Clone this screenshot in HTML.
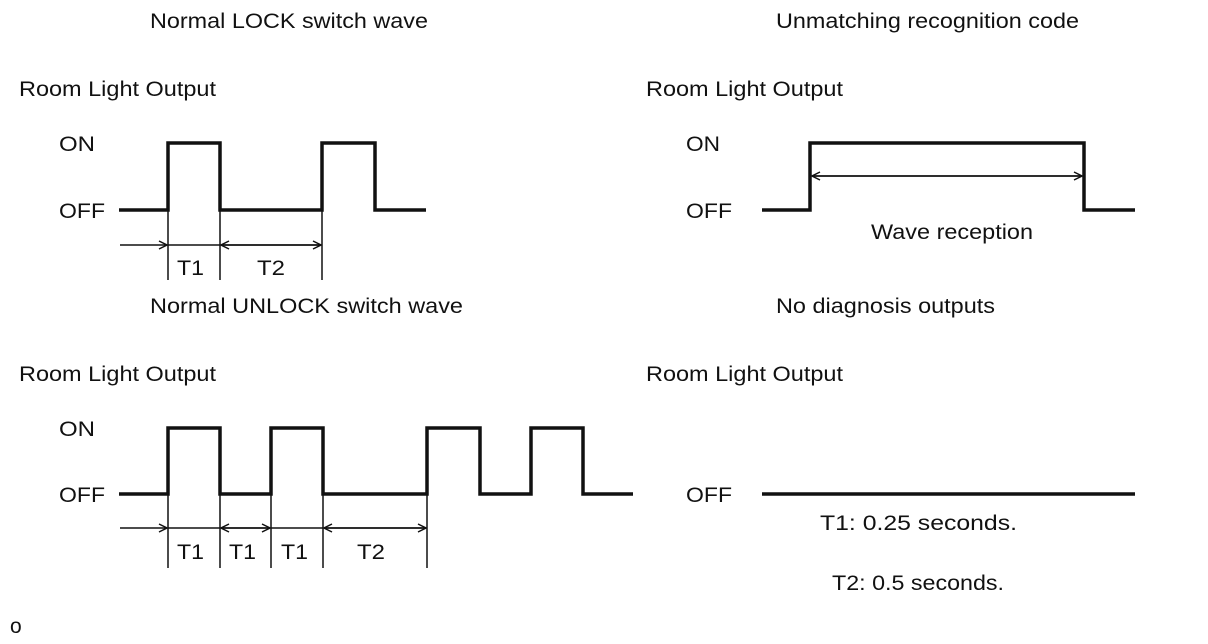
<!DOCTYPE html>
<html><head><meta charset="utf-8"><style>
html,body{margin:0;padding:0;background:#fff;}
svg{display:block;}
text{font-family:"Liberation Sans",Arial,sans-serif;font-size:21px;fill:#111;}
</style></head><body>
<svg width="1208" height="644" viewBox="0 0 1208 644" xmlns="http://www.w3.org/2000/svg">
<defs>
<marker id="ah" markerWidth="10" markerHeight="10" refX="9" refY="5" orient="auto" markerUnits="userSpaceOnUse">
<path d="M1,1 L9,5 L1,9" fill="none" stroke="#111" stroke-width="1.5"/>
</marker>
</defs>
<!-- texts -->
<text x="150" y="28" textLength="278" lengthAdjust="spacingAndGlyphs">Normal LOCK switch wave</text>
<text x="776" y="28" textLength="303" lengthAdjust="spacingAndGlyphs">Unmatching recognition code</text>
<text x="19" y="96" textLength="197" lengthAdjust="spacingAndGlyphs">Room Light Output</text>
<text x="646" y="96" textLength="197" lengthAdjust="spacingAndGlyphs">Room Light Output</text>
<text x="59" y="151" textLength="36" lengthAdjust="spacingAndGlyphs">ON</text>
<text x="59" y="218" textLength="46" lengthAdjust="spacingAndGlyphs">OFF</text>
<text x="686" y="151" textLength="34" lengthAdjust="spacingAndGlyphs">ON</text>
<text x="686" y="218" textLength="46" lengthAdjust="spacingAndGlyphs">OFF</text>
<text x="177" y="275" textLength="27" lengthAdjust="spacingAndGlyphs">T1</text>
<text x="257" y="275" textLength="28" lengthAdjust="spacingAndGlyphs">T2</text>
<text x="871" y="239" textLength="162" lengthAdjust="spacingAndGlyphs">Wave reception</text>
<text x="150" y="313" textLength="313" lengthAdjust="spacingAndGlyphs">Normal UNLOCK switch wave</text>
<text x="776" y="313" textLength="219" lengthAdjust="spacingAndGlyphs">No diagnosis outputs</text>
<text x="19" y="381" textLength="197" lengthAdjust="spacingAndGlyphs">Room Light Output</text>
<text x="646" y="381" textLength="197" lengthAdjust="spacingAndGlyphs">Room Light Output</text>
<text x="59" y="436" textLength="36" lengthAdjust="spacingAndGlyphs">ON</text>
<text x="59" y="502" textLength="46" lengthAdjust="spacingAndGlyphs">OFF</text>
<text x="686" y="502" textLength="46" lengthAdjust="spacingAndGlyphs">OFF</text>
<text x="177" y="559" textLength="27" lengthAdjust="spacingAndGlyphs">T1</text>
<text x="229" y="559" textLength="27" lengthAdjust="spacingAndGlyphs">T1</text>
<text x="281" y="559" textLength="27" lengthAdjust="spacingAndGlyphs">T1</text>
<text x="357" y="559" textLength="28" lengthAdjust="spacingAndGlyphs">T2</text>
<text x="820" y="530" textLength="197" lengthAdjust="spacingAndGlyphs">T1: 0.25 seconds.</text>
<text x="832" y="590" textLength="172" lengthAdjust="spacingAndGlyphs">T2: 0.5 seconds.</text>
<text x="10" y="633">o</text>

<!-- waveforms -->
<g fill="none" stroke="#111" stroke-width="3.5" stroke-linejoin="miter">
<path d="M119,210 H168 V143 H220 V210 H322 V143 H375 V210 H426"/>
<path d="M762,210 H810 V143 H1084 V210 H1135"/>
<path d="M119,494 H168 V428 H220 V494 H271 V428 H323 V494 H427 V428 H480 V494 H531 V428 H583 V494 H633"/>
<path d="M762,494 H1135"/>
</g>
<!-- ticks -->
<g stroke="#111" stroke-width="1.5">
<line x1="168" y1="210" x2="168" y2="280"/>
<line x1="220" y1="210" x2="220" y2="280"/>
<line x1="322" y1="210" x2="322" y2="280"/>
<line x1="168" y1="494" x2="168" y2="568"/>
<line x1="220" y1="494" x2="220" y2="568"/>
<line x1="271" y1="494" x2="271" y2="568"/>
<line x1="323" y1="494" x2="323" y2="568"/>
<line x1="427" y1="494" x2="427" y2="568"/>
</g>
<!-- dimension arrows -->
<g stroke="#111" stroke-width="1.5" fill="none">
<line x1="120" y1="245" x2="167" y2="245" marker-end="url(#ah)"/>
<line x1="168" y1="245" x2="220" y2="245"/>
<line x1="321" y1="245" x2="221" y2="245" marker-end="url(#ah)"/>
<line x1="221" y1="245" x2="321" y2="245" marker-end="url(#ah)"/>
<line x1="812" y1="176" x2="1082" y2="176" marker-end="url(#ah)"/>
<line x1="1082" y1="176" x2="812" y2="176" marker-end="url(#ah)"/>
<line x1="120" y1="528" x2="167" y2="528" marker-end="url(#ah)"/>
<line x1="168" y1="528" x2="220" y2="528"/>
<line x1="221" y1="528" x2="270" y2="528" marker-end="url(#ah)"/>
<line x1="270" y1="528" x2="221" y2="528" marker-end="url(#ah)"/>
<line x1="271" y1="528" x2="323" y2="528"/>
<line x1="324" y1="528" x2="426" y2="528" marker-end="url(#ah)"/>
<line x1="426" y1="528" x2="324" y2="528" marker-end="url(#ah)"/>
</g>
</svg>
</body></html>
